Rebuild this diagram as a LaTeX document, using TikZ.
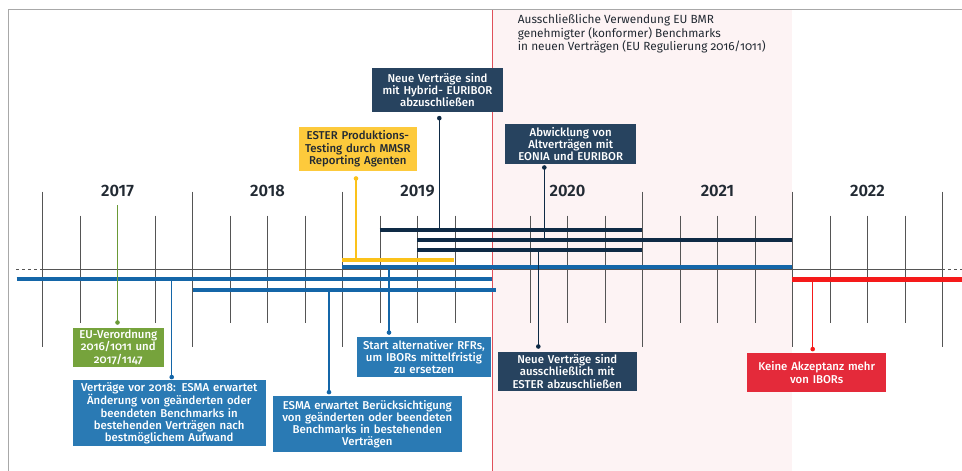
\documentclass[tikz,border=0pt]{standalone}
\usepackage{fontspec}
\setmainfont{Fira Sans}[UprightFont=* Medium, BoldFont=* SemiBold, Numbers=OldStyle]
\newfontfamily\headfont{Fira Sans}[Numbers=OldStyle]
\usetikzlibrary{calc}
\definecolor{pinkbg}{HTML}{FDF3F4}
\definecolor{framegray}{HTML}{A8A8A8}
\definecolor{tickgray}{HTML}{555555}
\definecolor{redline}{HTML}{E0505A}
\definecolor{barblue}{HTML}{1466A8}
\definecolor{boxblue}{HTML}{2A7AB4}
\definecolor{barnavy}{HTML}{0E2A45}
\definecolor{boxnavy}{HTML}{27435F}
\definecolor{baryellow}{HTML}{FBC21A}
\definecolor{boxyellow}{HTML}{FDCA3C}
\definecolor{boxgreen}{HTML}{76A33C}
\definecolor{linegreen}{HTML}{6A9A36}
\definecolor{barred}{HTML}{F51A1A}
\definecolor{boxred}{HTML}{E42A3A}
\definecolor{darktext}{HTML}{222A33}
\tikzset{
  box/.style={inner sep=0pt, align=center, text=white, font=\fontsize{11.4}{12.2}\selectfont},
  conn/.style={line width=1.3pt},
  tickline/.style={draw=tickgray, line width=0.9pt},
  bar/.style={line width=4pt},
  yearlabel/.style={anchor=base, text=darktext, font=\fontsize{16.5}{18}\selectfont\bfseries\addfontfeatures{Numbers=Lining}},
}
\begin{document}
\begin{tikzpicture}[x=1pt,y=-1pt]
\useasboundingbox (0,0) rectangle (962,471);
% pink zone
\fill[pinkbg] (492,10) rectangle (792,471);
% frame
\draw[framegray, line width=1.2pt] (8.3,471) -- (8.3,9.3) -- (962,9.3);
% ticks
\foreach \k in {0,1,2,4,5,6} {
  \draw[tickline] ({42.5+150*\k},191.7) -- ({42.5+150*\k},347.3);
}
\foreach \j in {1,...,23} {
  \pgfmathtruncatemacro{\m}{mod(\j,4)}
  \ifnum\m=0\relax\else
    \draw[tickline] ({42.5+37.5*\j},215.7) -- ({42.5+37.5*\j},322.7);
  \fi
}
% axis
\draw[tickgray, line width=0.8pt] (42.5,269) -- (942,269);
\draw[tickgray, line width=0.8pt, dashed] (16,269) -- (42.5,269);
\draw[tickgray, line width=0.8pt, dashed] (942,269) -- (962,269);
% red vertical line
\draw[redline, line width=0.9pt] (492,10) -- (492,471);
% years
\node[yearlabel] (y2017) at (117.5,196) {2017};
\node[yearlabel] (y2018) at (267.5,196) {2018};
\node[yearlabel] (y2019) at (417.5,196) {2019};
\node[yearlabel] (y2020) at (567.5,196) {2020};
\node[yearlabel] (y2021) at (717.5,196) {2021};
\node[yearlabel] (y2022) at (867.5,196) {2022};
% bars
\draw[bar, barnavy] (379.7,230) -- (641.7,230);
\draw[bar, barnavy] (417.3,240) -- (791.7,240);
\draw[bar, barnavy] (417.3,250) -- (641.7,250);
\draw[bar, baryellow] (342.3,259.7) -- (453.7,259.7);
\draw[bar, barblue] (342.3,267) -- (791.7,267);
\draw[bar, barblue] (16.7,279.3) -- (492,279.3);
\draw[bar, barblue] (192.7,289.7) -- (495.7,289.7);
\draw[line width=5pt, barred] (791.7,279.3) -- (962,279.3);
% header text
\node[anchor=north west, inner sep=0pt, align=left, text=darktext, font=\headfont\fontsize{11.8}{12.4}\selectfont] (head) at (517.7,14.5)
 {Ausschließliche Verwendung EU BMR\\genehmigter (konformer) Benchmarks\\in neuen Verträgen (EU Regulierung 2016/1011)};
% boxes
\node[box, fill=boxgreen, minimum width=91.3pt, minimum height=39pt, text width=88pt] (green) at (118.3,347.2)
 {EU-Verordnung\\2016/1011 und\\2017/1147};
\node[box, fill=boxblue, minimum width=193pt, minimum height=66pt, text width=190pt] (vor) at (169.2,413)
 {Verträge vor 2018: ESMA erwartet\\Änderung von geänderten oder\\beendeten Benchmarks in\\bestehenden Verträgen nach\\bestmöglichem Aufwand};
\node[box, fill=boxblue, minimum width=189.3pt, minimum height=56.3pt, text width=186pt] (esma) at (367.3,424.2)
 {ESMA erwartet Berücksichtigung\\von geänderten oder beendeten\\Benchmarks in bestehenden\\Verträgen};
\node[box, fill=boxblue, minimum width=133.3pt, minimum height=39.3pt, text width=130pt] (start) at (424,357)
 {Start alternativer RFRs,\\um IBORs mittelfristig\\zu ersetzen};
\node[box, fill=boxnavy, minimum width=138.7pt, minimum height=38.4pt, text width=135pt] (neue) at (567.3,371.5)
 {Neue Verträge sind\\ausschließlich mit\\ESTER abzuschließen};
\node[box, fill=boxred, minimum width=138.7pt, minimum height=38.4pt, text width=135pt] (keine) at (816.7,372.5)
 {Keine Akzeptanz mehr\\von IBORs};
\node[box, fill=boxnavy, minimum width=130.3pt, minimum height=44.3pt, text width=127pt] (hybrid) at (437.5,89.8)
 {Neue Verträge sind\\mit Hybrid- EURIBOR\\abzuschließen};
\node[box, fill=boxyellow, text=darktext, minimum width=117.7pt, minimum height=44.3pt, text width=115pt] (ester) at (357.8,148.8)
 {ESTER Produktions-\\Testing durch MMSR\\Reporting Agenten};
\node[box, fill=boxnavy, minimum width=130.7pt, minimum height=40pt, text width=127pt] (abw) at (570.7,144)
 {Abwicklung von\\Altverträgen mit\\EONIA und EURIBOR};
% connector anchors on bars
\coordinate (cgreen) at (117.5,205);
\coordinate (cvor) at (171.7,279.3);
\coordinate (cesma) at (329,289.7);
\coordinate (cstart) at (389,267);
\coordinate (cneue) at (538.3,250);
\coordinate (ckeine) at (812.7,279.3);
\coordinate (chybrid) at (439.3,230);
\coordinate (cester) at (356,259.7);
\coordinate (cabw) at (544.3,240);
% connectors
\draw[conn, linegreen] (cgreen) -- ($(green.north -| cgreen)+(0,-5)$) coordinate (dgreen);
\fill[linegreen] (dgreen) circle (2.3pt);
\draw[conn, barblue] (cvor) -- ($(vor.north -| cvor)+(0,-2.7)$) coordinate (dvor);
\fill[barblue] (dvor) circle (2.3pt);
\draw[conn, barblue] (cesma) -- ($(esma.north -| cesma)+(0,-3.7)$) coordinate (desma);
\fill[barblue] (desma) circle (2.3pt);
\draw[conn, barblue] (cstart) -- ($(start.north -| cstart)+(0,-4.6)$) coordinate (dstart);
\fill[barblue] (dstart) circle (2.3pt);
\draw[conn, barnavy] (cneue) -- ($(neue.north -| cneue)+(0,-5.6)$) coordinate (dneue);
\fill[barnavy] (dneue) circle (2.3pt);
\draw[conn, barred] (ckeine) -- ($(keine.north -| ckeine)+(0,-4)$) coordinate (dkeine);
\fill[barred] (dkeine) circle (2.3pt);
\draw[conn, barnavy] (chybrid) -- ($(hybrid.south -| chybrid)+(0,6)$) coordinate (dhybrid);
\fill[barnavy] (dhybrid) circle (2.3pt);
\draw[conn, baryellow] (cester) -- ($(ester.south -| cester)+(0,7.3)$) coordinate (dester);
\fill[baryellow] (dester) circle (2.3pt);
\draw[conn, barnavy] (cabw) -- ($(abw.south -| cabw)+(0,3.3)$) coordinate (dabw);
\fill[barnavy] (dabw) circle (2.3pt);
\end{tikzpicture}
\end{document}
